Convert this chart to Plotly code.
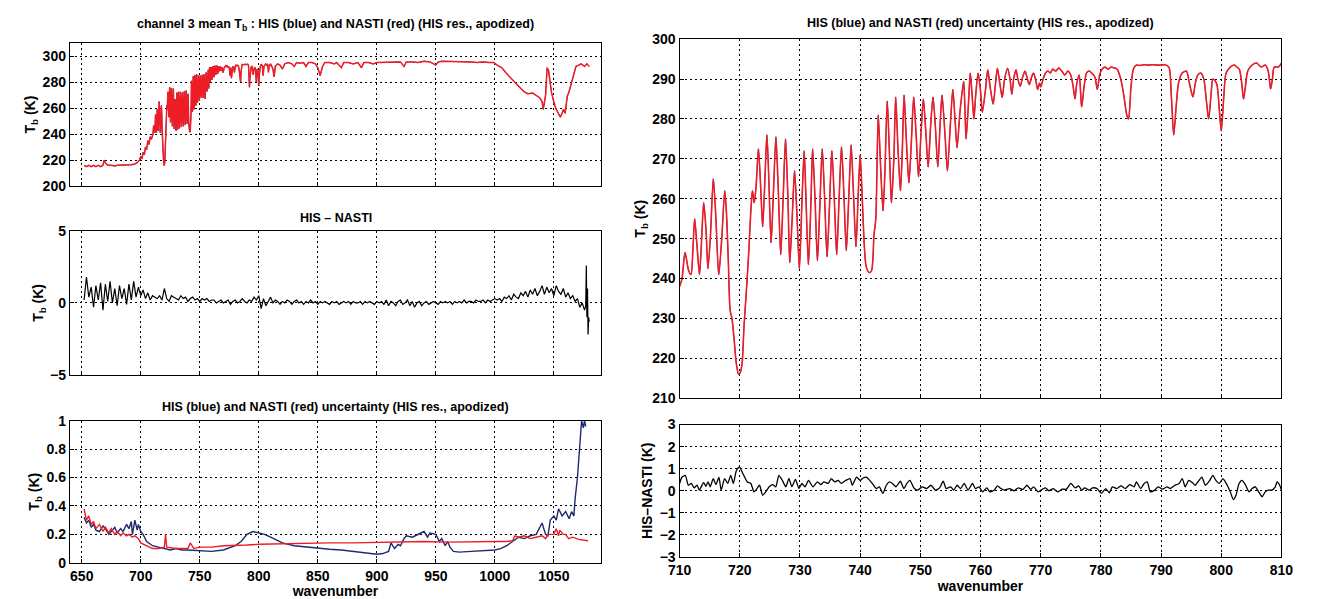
import plotly.graph_objects as go

FONT = "Liberation Sans"

# ---------------- right panel spectrum (710-810), also used in left panel ----------------
wn_r = [710.0, 710.4, 710.9, 711.5, 711.9, 712.2, 712.5, 712.9, 713.3, 713.6, 714.0, 714.4, 714.7, 715.1,
        715.6, 716.0, 716.5, 717.0, 717.5, 717.8, 718.1, 718.4, 718.7, 719.1, 719.4, 719.8, 720.1, 720.4,
        720.7, 721.1, 721.5, 721.8, 722.1, 722.4, 722.7, 723.1, 723.5, 723.8, 724.1, 724.5, 724.8, 725.2,
        725.6, 726.0, 726.4, 726.8, 727.2, 727.6, 728.0, 728.3, 728.7, 729.1, 729.5, 729.9, 730.3, 730.7,
        731.0, 731.4, 731.8, 732.1, 732.5, 732.9, 733.3, 733.7, 734.1, 734.5, 734.9, 735.3, 735.7, 736.1,
        736.5, 736.9, 737.3, 737.7, 738.1, 738.5, 738.9, 739.3, 739.7,
        740.0, 740.3, 740.7, 741.0, 741.5, 741.9, 742.3, 742.6, 743.0, 743.4, 743.8, 744.1, 744.5, 744.9,
        745.2, 745.6, 745.9, 746.3, 746.7, 747.0, 747.3, 747.7, 748.1, 748.5, 748.9, 749.3, 749.7, 750.1,
        750.5, 750.9, 751.3, 751.7, 752.1, 752.5, 752.9, 753.3, 753.6, 754.1, 754.5, 755.0, 755.4, 755.8,
        756.1, 756.6, 757.2, 757.4, 757.6, 758.0, 758.3, 758.6, 758.9, 759.2, 759.6, 760.0, 760.3, 760.8,
        761.2, 761.6, 762.1, 762.5, 762.8, 763.2, 763.6, 764.0, 764.5, 764.9, 765.2, 765.5, 765.9, 766.2,
        766.6, 767.0, 767.4, 767.8, 768.1, 768.5, 768.8, 769.2, 769.5, 769.8,
        770.0, 770.4, 770.8, 771.2, 771.6, 772.0, 772.5, 773.0, 773.5, 774.0, 774.5, 775.0, 775.4, 775.7,
        776.0, 776.4, 776.8, 777.2, 777.6, 778.0, 778.5, 779.0, 779.4, 779.8, 780.2, 780.7, 781.2, 781.7,
        782.2, 782.7, 783.3, 783.8, 784.3, 784.6, 785.0, 785.4, 785.9, 786.5, 787.2, 787.9, 788.6, 789.3,
        790.0, 790.6, 791.3, 791.7, 792.1, 792.5, 792.9, 793.5, 794.2, 794.7, 795.0, 795.3, 795.7, 796.1,
        796.6, 797.1, 797.5, 797.9, 798.3, 798.6, 799.0, 799.3, 799.7, 800.0, 800.4, 800.8, 801.5, 802.2,
        802.6, 803.0, 803.4, 803.7, 804.0, 804.4, 805.1, 805.9, 806.6, 807.3, 807.8, 808.2, 808.5, 808.8,
        809.5, 810.0]
tb_r = [238, 240, 246.5, 242, 241, 247, 255, 248, 241, 248, 259, 252, 242.5, 250,
        265, 256, 241, 250, 262, 256, 244, 232, 230, 224, 219, 216, 216.5, 219,
        228, 237, 247, 256, 262, 259, 263, 272.5, 262, 253, 262, 276, 266, 249,
        262, 275.5, 262, 246, 260, 275, 260, 244, 255, 267, 256, 242.5, 258, 272,
        260, 243.5, 258, 272.5, 260, 244.5, 258, 272.5, 260, 245.5, 258, 272, 260, 246,
        260, 273, 261, 247, 260, 273.5, 261, 248, 262,
        271, 262, 248, 243, 241.5, 242, 251, 255, 281, 268, 257, 266, 284.5, 270,
        259, 270, 285.5, 272, 262, 272, 286, 274, 264, 274, 285.5, 276, 265.5, 276,
        285, 277, 268, 278, 285.5, 278, 268, 279, 286, 276, 267, 279, 287.4, 279,
        272.8, 282, 289.4, 283, 275, 284, 291.5, 286, 280, 286, 291.5, 287, 281.7, 287,
        292.3, 288, 283.7, 289, 292.7, 289, 285.4, 290, 292.7, 290, 286.2, 290, 292.3, 290,
        288.2, 290.5, 292, 290, 288.6, 290.5, 291.5, 289.5, 287.4, 289,
        288, 290, 291.5, 292, 291.5, 292.5, 292, 292.8, 292, 291, 292, 291, 288, 285,
        289, 291, 283, 288, 291.5, 292, 291.5, 290.5, 287.4, 291, 292.5, 293, 292.5, 293,
        292.8, 292.5, 290, 286, 281, 280, 288, 292.5, 293.5, 293.4, 293.6, 293.5, 293.6, 293.5,
        293.5, 293.6, 293, 286, 276, 283, 289, 291.5, 292, 289, 287, 285.5, 289, 291,
        291.5, 290, 285, 280, 286, 290, 289.5, 288.5, 282, 277, 285, 291.5, 293, 293.5,
        293, 292.5, 289, 285, 288, 292, 293.5, 294, 293, 293.5, 292, 287.5, 290, 293,
        293, 294]

# ---------------- left top spectrum outside 710-810 ----------------
wn_low = [652, 654, 656, 658, 660, 662, 664, 666, 668, 669, 670, 672, 675, 678, 680, 684, 688, 692,
          695, 697, 699, 700, 701, 702, 703, 704, 705, 706, 707, 708, 709]
tb_low = [216, 215, 216, 215, 216, 215, 216, 215, 216, 220, 218, 216, 216, 215.5, 216, 216, 216, 216.5,
          217, 218, 220, 223, 221, 226, 224, 230, 228, 235, 232, 238, 236]
wn_high = [812, 813, 814, 816, 818, 820, 822, 825, 828, 830, 832, 835, 838, 840, 842, 845, 848, 850,
           852, 854, 856, 860, 864, 866, 870, 872, 876, 880, 884, 887, 889, 893, 897, 900, 905, 910,
           915, 920, 923, 925, 930, 935, 940, 945, 950, 952, 955, 960, 965, 970, 975, 980, 985, 990,
           995, 999, 1002, 1006, 1009, 1012, 1016, 1019, 1022, 1025, 1028, 1032, 1035, 1038, 1040,
           1041, 1043, 1044.3, 1045.5, 1046.6, 1048, 1049.9, 1051.5, 1053.2, 1054.5, 1055.5, 1057,
           1058.2, 1059.5, 1061.4, 1063, 1064.7, 1066.5, 1068.7, 1071, 1073, 1074.6, 1076, 1078, 1080]
tb_high = [290, 284, 292, 294, 293, 290, 294, 295, 294, 292, 295, 294.5, 295, 292, 295, 295, 294, 291,
           285, 292, 295, 295, 294, 295, 291, 295, 295, 294, 295, 291, 295, 295, 294, 295, 295, 295.5,
           295, 295.5, 292, 295.5, 295.5, 295, 296, 295.5, 293, 295.5, 296, 296, 295.5, 296, 296,
           295.5, 295, 295.5, 295, 295, 293, 291, 287.5, 284.5, 281, 278, 275, 272.5, 271, 271.5,
           270, 268, 265, 259, 270, 291, 289, 282, 272, 265, 260, 257, 254, 253, 256, 259, 256,
           269, 273, 279, 286, 292, 293, 294, 293, 292, 294, 292]

# ---------------- left middle: HIS - NASTI (2 cm-1 sampling from 652) ----------------
diff_a = [0.2, 1.8, 0.4, 1.1, -0.3, 1.2, 0.2, 1.4, -0.5, 1.3, 0.1, 1.5, 0.0, 1.0, -0.2, 1.2, 0.3, 1.0,
          -0.1, 1.3, 0.2, 1.5, 0.4, 1.1, 0.5, 0.9, 0.3, 0.7, 0.2, 0.5]
diff_b = [0.4, 0.3, 0.5, 0.2, 1.0, 0.3, 0.1, 0.5, 0.4, 0.3, 0.2, 0.5, 0.3, 0.4, 0.1, 0.3, 0.4, 0.2,
          0.3, 0.1, 0.3, 0.2, 0.3, 0.1, 0.2]
diff_c = [0.2, 0.0, 0.1, 0.2, 0.0, 0.1, 0.2, -0.1, 0.1, 0.2, 0.0, 0.1, 0.3, 0.1, 0.0, 0.2, 0.1, 0.4,
          0.2, 0.5, -0.4, 0.3, -0.2, 0.1, 0.4, 0.0, 0.2, 0.1, -0.1, 0.1, 0.0, 0.2, 0.1, -0.1, 0.1,
          0.2, 0.0, 0.1, -0.1, 0.1, 0.0, 0.2, 0.0, 0.1, -0.1, 0.1, 0.0, 0.1, 0.0, -0.1, 0.1, 0.0,
          0.1, -0.1, 0.0, 0.1, 0.0, 0.1, -0.1, 0.1, 0.0, 0.0, 0.1, -0.1, 0.1, 0.0, 0.1, 0.0, -0.1, 0.1]
diff_d = [0.0, 0.1, -0.1, 0.2, -0.2, 0.1, 0.0, -0.2, 0.1, 0.2, -0.1, 0.0, 0.2, -0.2, 0.1, -0.3, 0.0,
          0.1, -0.2, 0.0, 0.1, -0.1, 0.0, 0.1, 0.0, -0.1, 0.1, 0.0, 0.1, 0.0, 0.1, -0.1, 0.1, 0.0,
          0.1, 0.0, 0.2, 0.0, 0.1, 0.1, 0.0, 0.2, 0.1, 0.1, 0.2, 0.0, 0.2, 0.1, 0.2, 0.3]
diff_e = [0.2, 0.3, 0.1, 0.4, 0.3, 0.5, 0.2, 0.6, 0.4, 0.3, 0.7, 0.5, 0.8, 0.4, 0.9, 0.6, 1.0, 0.5,
          0.8, 1.2, 0.6, 1.1, 0.7, 1.0, 0.5, 1.2, 0.8, 0.6, 1.0, 0.4, 0.7, 0.3, 0.5, 0.1, 0.3, -0.3,
          0.0, -0.5]
diff_tail_wn = [1077, 1077.5, 1078, 1078.5, 1079, 1079.5, 1080]
diff_tail = [-0.2, 2.6, -1.0, 1.0, -2.2, -1.0, -1.3]

# ---------------- left bottom: uncertainties ----------------
unc_his_wn = [652, 654, 656, 658, 660, 662, 665, 668, 670, 673, 675, 678, 680, 683, 685, 688, 690, 692,
              693, 695, 697, 698, 700, 702, 705, 708, 710, 715, 720, 725, 730, 735, 740, 750, 760, 770,
              780, 785, 790, 795, 800, 805, 810, 815, 820, 830, 840, 850, 860, 870, 880, 890, 900, 905,
              910, 912, 915, 918, 920, 923, 925, 930, 935, 940, 943, 945, 950, 953, 955, 958, 960, 962,
              965, 970, 980, 990, 1000, 1005, 1010, 1015, 1018, 1020, 1025, 1030, 1035, 1038, 1040, 1043,
              1045, 1047, 1050, 1052, 1054, 1057, 1060, 1063, 1065, 1067, 1068, 1070, 1071, 1072, 1073.5,
              1075, 1076, 1077]
unc_his = [0.32, 0.28, 0.3, 0.25, 0.27, 0.23, 0.22, 0.26, 0.24, 0.2, 0.22, 0.25, 0.21, 0.24, 0.22, 0.27,
           0.24, 0.29, 0.2, 0.3, 0.23, 0.27, 0.22, 0.2, 0.15, 0.13, 0.12, 0.11, 0.1, 0.09, 0.1, 0.09, 0.09,
           0.085, 0.08, 0.09, 0.12, 0.15, 0.2, 0.22, 0.21, 0.2, 0.18, 0.16, 0.14, 0.12, 0.11, 0.1, 0.095,
           0.09, 0.08, 0.07, 0.06, 0.065, 0.08, 0.14, 0.1, 0.13, 0.12, 0.17, 0.19, 0.18, 0.2, 0.22, 0.18,
           0.21, 0.2, 0.15, 0.17, 0.12, 0.15, 0.11, 0.08, 0.075, 0.08, 0.085, 0.09, 0.1, 0.12, 0.15, 0.17,
           0.18, 0.17, 0.19, 0.2, 0.25, 0.28, 0.2, 0.19, 0.3, 0.33, 0.3, 0.38, 0.33, 0.36, 0.31, 0.36,
           0.33, 0.45, 0.6, 0.7, 0.8, 1.0, 0.95, 1.0, 0.96]
unc_nasti_wn = [652, 654, 656, 658, 660, 662, 665, 668, 670, 673, 675, 678, 680, 683, 685, 688, 690,
                693, 695, 698, 700, 705, 710, 715, 720, 721, 722, 730, 740, 742, 745, 750, 760, 770, 780,
                790, 800, 820, 840, 860, 880, 900, 920, 940, 960, 980, 1000, 1010, 1015, 1017, 1020,
                1025, 1030, 1035, 1040, 1043, 1045, 1050, 1052, 1054, 1055, 1058, 1060, 1062.5, 1066,
                1071, 1075, 1079]
unc_nasti = [0.38, 0.3, 0.33, 0.27, 0.29, 0.24, 0.27, 0.22, 0.25, 0.21, 0.24, 0.2, 0.22, 0.19, 0.21,
             0.19, 0.2, 0.18, 0.19, 0.17, 0.14, 0.12, 0.1, 0.1, 0.11, 0.2, 0.11, 0.1, 0.1, 0.14, 0.1,
             0.11, 0.11, 0.12, 0.12, 0.125, 0.13, 0.135, 0.14, 0.14, 0.14, 0.145, 0.145, 0.15, 0.145,
             0.15, 0.15, 0.15, 0.155, 0.19, 0.18, 0.19, 0.17, 0.18, 0.19, 0.17, 0.2, 0.2, 0.24, 0.19,
             0.23, 0.2, 0.2, 0.17, 0.18, 0.165, 0.16, 0.155]

# ---------------- right bottom: HIS-NASTI ----------------
diff_r_wn = [710.0, 710.36, 710.94, 711.45, 711.96, 712.4, 712.9, 713.27, 713.99, 714.36, 714.72,
             715.08, 715.59, 716.03, 716.54, 716.9, 717.48, 717.99, 718.5, 718.93, 719.44, 719.95,
             720.53, 721.26, 721.84, 722.35, 722.85, 723.29, 723.8, 724.31, 724.89, 725.47, 725.98,
             726.49, 727.07, 727.65, 728.16, 728.66, 729.24, 729.83, 730.33, 730.84, 731.42, 732.15,
             732.88, 733.46, 733.97, 734.69, 735.2, 735.78, 736.36, 736.87, 737.6, 738.32, 738.69,
             739.41, 739.99, 740.5, 741.01, 741.59, 742.17, 742.68, 743.19, 743.77, 744.35, 744.86,
             745.37, 745.95, 746.67, 747.26, 747.76, 748.27, 749.0, 749.58, 750.3, 751.03, 751.76,
             752.48, 753.21, 753.79, 754.3, 755.03, 755.53, 756.11, 756.69, 757.28, 757.93, 758.66,
             759.16, 759.75, 760.33, 761.05, 761.56, 762.29, 762.8, 763.38, 763.96, 764.83, 765.56,
             766.28, 767.01, 767.73, 768.32, 768.82, 769.55, 770.28, 770.78, 771.37, 772.09, 772.82,
             773.54, 774.27, 775.0, 775.72, 776.3, 776.81, 777.32, 778.05, 778.63, 779.35, 780.08,
             780.81, 781.39, 781.9, 782.62, 783.35, 784.07, 784.8, 785.53, 785.89, 786.62, 787.2,
             787.71, 788.21, 788.94, 789.52, 790.25, 790.97, 791.55, 792.28, 793.01, 793.51, 794.02,
             794.6, 795.19, 795.69, 796.2, 796.78, 797.36, 798.09, 798.6, 799.11, 799.69, 800.27,
             800.99, 801.5, 802.01, 802.45, 802.96, 803.46, 804.05, 804.63, 805.13, 805.64, 806.22,
             806.8, 807.31, 807.82, 808.4, 808.98, 809.27, 809.71, 810.0]
diff_r = [0.33, 0.6, 0.7, 0.25, 0.33, 0.13, 0.25, 0.03, 0.37, 0.2, 0.4, 0.18, 0.55, 0.28, 0.6, 0.03,
          0.55, 0.33, 0.7, 0.33, 0.92, 1.07, 0.77, 0.4, 0.33, -0.05, 0.1, 0.25, -0.2, -0.05, 0.18,
          0.28, 0.18, 0.7, 0.47, 0.18, 0.55, 0.18, 0.52, 0.1, 0.33, 0.18, 0.47, 0.18, 0.4, 0.28, 0.4,
          0.33, 0.55, 0.4, 0.47, 0.33, 0.47, 0.55, 0.25, 0.62, 0.47, 0.58, 0.62, 0.47, 0.28, 0.1,
          0.18, -0.12, 0.25, 0.4, 0.33, 0.18, 0.43, 0.1, 0.33, 0.47, 0.1, 0.03, 0.18, 0.1, 0.25, 0.03,
          0.13, 0.43, 0.1, 0.18, 0.03, 0.25, 0.1, 0.33, 0.03, 0.33, 0.1, 0.18, -0.05, 0.13, -0.05,
          0.03, 0.22, 0.1, 0.03, 0.1, 0.0, 0.13, 0.06, 0.25, 0.06, 0.18, -0.05, 0.07, 0.13, 0.0, 0.1,
          -0.05, 0.07, 0.07, 0.33, 0.13, 0.22, 0.03, 0.13, 0.03, 0.13, 0.1, -0.12, 0.1, -0.09, 0.18,
          0.1, 0.22, 0.1, 0.28, 0.18, 0.4, 0.1, 0.33, 0.4, -0.05, 0.03, 0.18, 0.07, 0.18, 0.1, 0.25,
          0.33, 0.55, 0.18, 0.47, 0.37, 0.25, 0.43, 0.62, 0.25, 0.47, 0.7, 0.47, 0.33, 0.55, 0.25,
          -0.05, -0.4, -0.2, 0.33, 0.47, 0.25, -0.05, 0.1, 0.18, -0.05, -0.27, -0.05, 0.03, 0.03,
          0.18, 0.4, 0.25, 0.03]

# ---------------- assemble sampling grids ----------------
def grid(start, vals):
    return [start + 2 * i for i in range(len(vals))]

diff_l_wn = (grid(652, diff_a) + grid(712, diff_b) + grid(762, diff_c) + grid(902, diff_d)
             + grid(1002, diff_e) + diff_tail_wn)
diff_l = diff_a + diff_b + diff_c + diff_d + diff_e + diff_tail

wn_full = wn_low + wn_r + wn_high
tb_full = tb_low + tb_r + tb_high

BLUE = "#1b2a9a"
NAVY = "#1f2a6e"
RED = "#ee1c24"

fig = go.Figure()
# top-left
fig.add_trace(go.Scatter(x=wn_full, y=tb_full, mode="lines", line=dict(color=BLUE, width=0.8),
                         xaxis="x", yaxis="y", showlegend=False))
fig.add_trace(go.Scatter(x=wn_full, y=tb_full, mode="lines", line=dict(color=RED, width=1.5),
                         xaxis="x", yaxis="y", showlegend=False))
# middle-left
fig.add_trace(go.Scatter(x=diff_l_wn, y=diff_l, mode="lines", line=dict(color="black", width=1.2),
                         xaxis="x2", yaxis="y2", showlegend=False))
# bottom-left
fig.add_trace(go.Scatter(x=unc_his_wn, y=unc_his, mode="lines", line=dict(color=NAVY, width=1.4),
                         xaxis="x3", yaxis="y3", showlegend=False))
fig.add_trace(go.Scatter(x=unc_nasti_wn, y=unc_nasti, mode="lines", line=dict(color=RED, width=1.4),
                         xaxis="x3", yaxis="y3", showlegend=False))
# top-right
fig.add_trace(go.Scatter(x=wn_r, y=tb_r, mode="lines",
                         line=dict(color=BLUE, width=0.8, shape="spline", smoothing=0.7),
                         xaxis="x4", yaxis="y4", showlegend=False))
fig.add_trace(go.Scatter(x=wn_r, y=tb_r, mode="lines",
                         line=dict(color=RED, width=1.6, shape="spline", smoothing=0.7),
                         xaxis="x4", yaxis="y4", showlegend=False))
# bottom-right
fig.add_trace(go.Scatter(x=diff_r_wn, y=diff_r, mode="lines",
                         line=dict(color="black", width=1.3, shape="spline", smoothing=0.6),
                         xaxis="x5", yaxis="y5", showlegend=False))

tickfont = dict(family=FONT, size=14, color="black", weight="bold")
titlefont = dict(family=FONT, size=14, color="black", weight="bold")


def axis(**kw):
    d = dict(showline=True, mirror=True, linecolor="black", linewidth=1.3, ticks="inside", ticklen=4,
             tickcolor="black", showgrid=True, gridcolor="black", griddash="2px,3px", gridwidth=1,
             zeroline=False, tickfont=tickfont)
    d.update(kw)
    return d


W, H = 1317, 599
def xd(a, b):
    return [a / W, b / W]
def yd(top, bot):
    return [1 - bot / H, 1 - top / H]

LX = xd(59, 600)
RX = xd(680, 1293)

fig.update_layout(
    width=W, height=H, margin=dict(l=0, r=0, t=0, b=0),
    paper_bgcolor="white", plot_bgcolor="white",
    xaxis=axis(domain=LX, range=[640, 1090], tick0=650, dtick=50, showticklabels=False, anchor="y"),
    yaxis=axis(domain=yd(36, 183), range=[200, 310], tick0=200, dtick=20, anchor="x",
               title=dict(text="T<sub>b</sub> (K)", font=titlefont, standoff=3)),
    xaxis2=axis(domain=LX, range=[640, 1090], tick0=650, dtick=50, showticklabels=False, anchor="y2"),
    yaxis2=axis(domain=yd(229, 377), range=[-5, 5], tick0=-5, dtick=5, anchor="x2",
                title=dict(text="T<sub>b</sub> (K)", font=titlefont, standoff=3)),
    xaxis3=axis(domain=LX, range=[640, 1090], tick0=650, dtick=50, anchor="y3",
                title=dict(text="wavenumber", font=titlefont, standoff=0)),
    yaxis3=axis(domain=yd(424, 570), range=[0, 1], tick0=0, dtick=0.2, anchor="x3",
                title=dict(text="T<sub>b</sub> (K)", font=titlefont, standoff=3)),
    xaxis4=axis(domain=RX, range=[710, 810], tick0=710, dtick=10, showticklabels=False, anchor="y4"),
    yaxis4=axis(domain=yd(32, 401), range=[210, 300], tick0=210, dtick=10, anchor="x4",
                title=dict(text="T<sub>b</sub> (K)", font=titlefont, standoff=3)),
    xaxis5=axis(domain=RX, range=[710, 810], tick0=710, dtick=10, anchor="y5",
                title=dict(text="wavenumber", font=titlefont, standoff=0)),
    yaxis5=axis(domain=yd(428, 564), range=[-3, 3], tick0=-3, dtick=1, anchor="x5",
                title=dict(text="HIS\u2013NASTI (K)", font=titlefont, standoff=3)),
)

ann_font = dict(family=FONT, size=12.5, color="black", weight="bold")
titles = [
    ("channel 3 mean T<sub>b</sub> : HIS (blue) and NASTI (red) (HIS res., apodized)", 330, 17),
    ("HIS \u2013 NASTI", 330, 216),
    ("HIS (blue) and NASTI (red) uncertainty (HIS res., apodized)", 330, 410),
    ("HIS (blue) and NASTI (red) uncertainty (HIS res., apodized)", 986, 15),
]
for text, px, py in titles:
    fig.add_annotation(text=text, x=px / W, y=1 - py / H, xref="paper", yref="paper",
                       showarrow=False, font=ann_font, xanchor="center", yanchor="middle")

fig.write_html("out.html")
